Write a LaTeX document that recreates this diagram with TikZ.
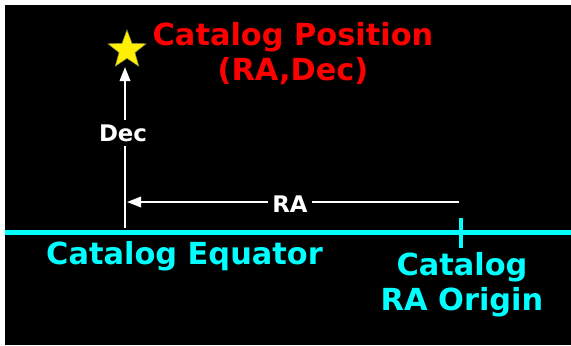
\documentclass[tikz,border=0pt]{standalone}
\usepackage{fontspec}
\setmainfont{DejaVu Sans}
\usepackage{tikz}
\usetikzlibrary{arrows.meta, positioning, shapes.geometric}
\definecolor{SkyCyan}{RGB}{0,255,255}
\definecolor{PosRed}{RGB}{255,0,0}
\definecolor{StarYellow}{RGB}{255,240,0}

\begin{document}
\begin{tikzpicture}[x=0.02cm, y=-0.02cm,
    biglabel/.style={font=\fontsize{17.3}{20}\selectfont\bfseries, align=center, inner sep=0pt},
    smalllabel/.style={font=\fontsize{13}{15}\selectfont\bfseries, text=white, fill=black, inner sep=2.5pt},
    guide/.style={draw=white, line width=1pt, -{Triangle[length=8pt, width=6pt]}}]
\useasboundingbox (0,0) rectangle (571,345);
\fill[white] (0,0) rectangle (571,345);
\fill[black] (5,5) rectangle (571,345);

% equator and RA origin tick
\coordinate (eqwest) at (5,232.5);
\coordinate (eqeast) at (571,232.5);
\draw[SkyCyan, line width=2.8pt] (eqwest) -- (eqeast);
\coordinate (tickup) at (461,218);
\coordinate (tickdown) at (461,248);
\draw[SkyCyan, line width=2.2pt] (tickup) -- (tickdown);
\node[biglabel, text=SkyCyan, anchor=base] (eqlabel) at (184.5,264) {Catalog Equator};
\node[biglabel, text=SkyCyan, anchor=north] (originlabel) at (462,252) {Catalog\\RA Origin};

% catalog position
\node[star, star points=5, star point ratio=2.4, minimum size=0.8cm, inner sep=0pt,
      fill=StarYellow, draw=yellow!50!black, line width=0.3pt] (star) at (127,50) {};
\node[biglabel, text=PosRed, anchor=north] (poslabel) at (293,22) {Catalog Position\\(RA,Dec)};

% offsets
\coordinate (decfoot) at (125,228);
\coordinate (dectip) at (125,67);
\draw[guide] (decfoot) -- (dectip);
\node[smalllabel, anchor=base] (declabel) at (123,141) {Dec};
\coordinate (rastart) at (459,202);
\coordinate (raend) at (127,202);
\draw[guide] (rastart) -- (raend);
\node[smalllabel, anchor=base] (ralabel) at (290,212) {RA};
\end{tikzpicture}
\end{document}
